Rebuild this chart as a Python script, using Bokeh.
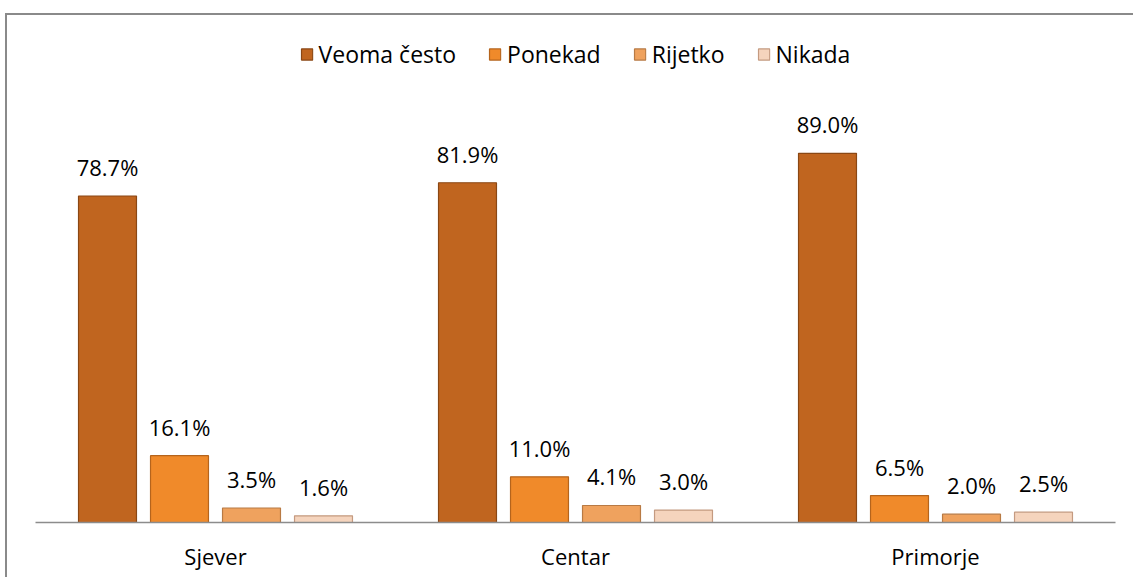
from bokeh.plotting import figure
from bokeh.models import ColumnDataSource, Legend, LegendItem
from bokeh.transform import dodge
from bokeh.core.properties import value
from bokeh.embed import file_html
from bokeh.resources import INLINE

regions = ["Sjever", "Centar", "Primorje"]
series = ["Veoma često", "Ponekad", "Rijetko", "Nikada"]
veoma_cesto = [78.7, 81.9, 89.0]
ponekad = [16.1, 11.0, 6.5]
rijetko = [3.5, 4.1, 2.0]
nikada = [1.6, 3.0, 2.5]
values = [veoma_cesto, ponekad, rijetko, nikada]

fills = ["#C0651F", "#F08A2A", "#EFA25E", "#F5D4BD"]
lines = ["#8A4714", "#B5641C", "#B87A44", "#C49A80"]
offsets = [-0.3, -0.1, 0.1, 0.3]
FONT = "Open Sans"

p = figure(x_range=regions, y_range=(0, 118.6), width=1128, height=564,
           output_backend="svg", toolbar_location=None,
           min_border_left=28, min_border_right=20, min_border_top=15, min_border_bottom=57)
p.styles = {"border-left": "2px solid #8a8a8a", "border-top": "2px solid #8a8a8a",
            "margin-top": "13px", "margin-left": "5px"}
p.outline_line_color = None
p.xgrid.grid_line_color = None
p.ygrid.grid_line_color = None
p.yaxis.visible = False
p.background_fill_color = "white"
p.border_fill_color = "white"

items = []
for name, vals, off, fc, lc in zip(series, values, offsets, fills, lines):
    src = ColumnDataSource(dict(region=regions, value=vals,
                                label=[f"{v:.1f}%" for v in vals]))
    r = p.vbar(x=dodge("region", off, range=p.x_range), top="value", width=0.161,
               source=src, fill_color=fc, line_color=lc, line_width=1.2)
    p.text(x=dodge("region", off, range=p.x_range), y="value", text="label", source=src,
           text_align="center", text_baseline="alphabetic", y_offset=-29,
           text_font=value(FONT), text_font_size="22px", text_color="#000000")
    items.append(LegendItem(label=name, renderers=[r]))

legend = Legend(items=items, orientation="horizontal", location="top_center",
                label_text_font=FONT, label_text_font_size="23px", label_text_color="#000000",
                glyph_width=14, glyph_height=14, label_standoff=5, spacing=32,
                padding=4, margin=8, background_fill_alpha=0, border_line_color=None,
                label_height=22)
p.add_layout(legend, "center")

ax = p.xaxis[0]
ax.axis_line_color = "#8c8c8c"
ax.axis_line_width = 1.5
ax.major_tick_line_color = None
ax.minor_tick_line_color = None
ax.major_tick_out = 0
ax.major_tick_in = 0
ax.major_label_standoff = 18
ax.major_label_text_font = FONT
ax.major_label_text_font_size = "22px"
ax.major_label_text_color = "#000000"

open("out.html", "w").write(file_html(p, INLINE))
